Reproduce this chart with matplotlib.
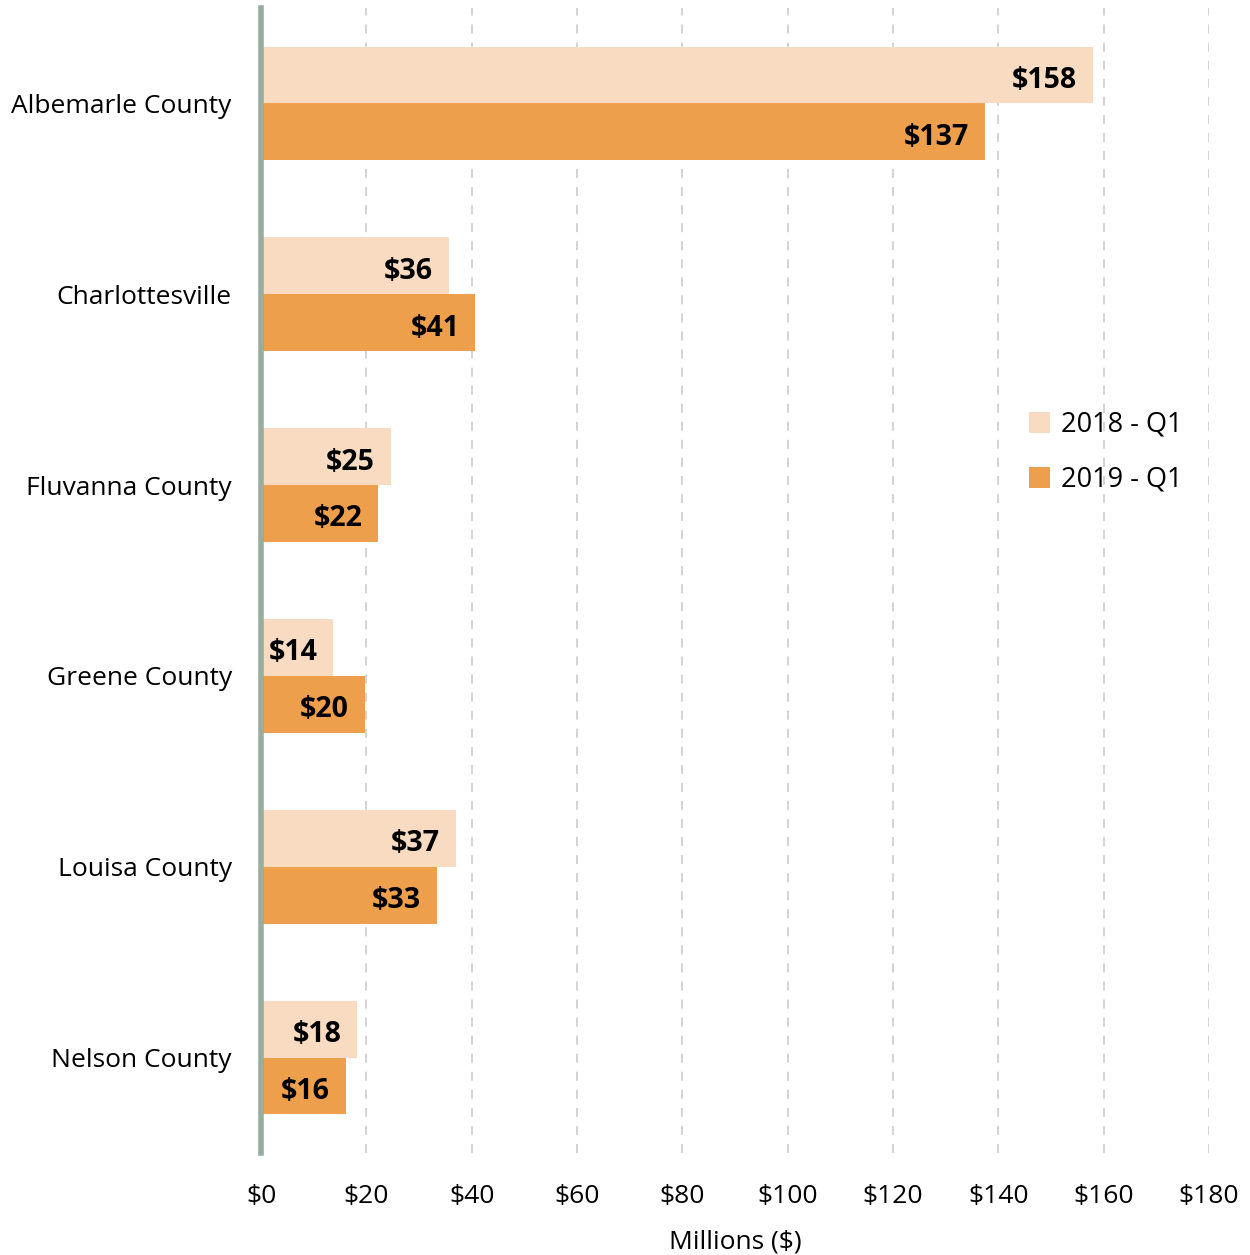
import matplotlib
matplotlib.use("Agg")
import numpy as np
import matplotlib.pyplot as plt
from matplotlib.patches import Patch

# Taxable sales by locality, first quarter, millions of dollars
localities = [
    "Albemarle County",
    "Charlottesville",
    "Fluvanna County",
    "Greene County",
    "Louisa County",
    "Nelson County",
]
sales_2018_q1 = [158.0, 35.7, 24.6, 13.7, 37.0, 18.3]
sales_2019_q1 = [137.4, 40.7, 22.3, 19.7, 33.4, 16.1]
series_labels = ["2018 - Q1", "2019 - Q1"]
x_ticks = [0, 20, 40, 60, 80, 100, 120, 140, 160, 180]

LIGHT = "#F8DBC0"
DARK = "#EE9F4C"
AXIS_GREEN = "#97ADA0"
GRID_GRAY = "#D0D0D0"

plt.rcParams.update({
    "font.family": ["Open Sans", "DejaVu Sans"],
    "font.size": 19,
})

fig = plt.figure(figsize=(12.5, 12.55), dpi=100)
ax = fig.add_axes([0.2088, 0.0813, 0.7584, 0.9123])

y = np.arange(len(localities))
h = 0.298

bars_a = ax.barh(y - h / 2, sales_2018_q1, height=h, color=LIGHT, zorder=2)
bars_b = ax.barh(y + h / 2, sales_2019_q1, height=h, color=DARK, zorder=2)

# value labels sit inside the bar ends
for bars, vals in ((bars_a, sales_2018_q1), (bars_b, sales_2019_q1)):
    for bar, v in zip(bars, vals):
        ax.text(v - 3.0, bar.get_y() + bar.get_height() / 2 + 0.01, f"${v:.0f}",
                ha="right", va="center_baseline", fontsize=20.5, fontweight="bold",
                color="black", zorder=3)

ax.set_xlim(0, 180)
ax.set_ylim(len(localities) - 0.5, -0.5)
ax.set_yticks(y)
ax.set_yticklabels(localities)
ax.set_xticks(x_ticks)
ax.set_xticklabels([f"${t}" for t in x_ticks])
ax.tick_params(axis="both", length=0, labelsize=19)
ax.tick_params(axis="x", pad=22)
ax.tick_params(axis="y", pad=21)

ax.xaxis.grid(True, linestyle=(0, (5, 5)), color=GRID_GRAY, linewidth=1.3, zorder=0)
ax.set_axisbelow(True)
for side in ("top", "right", "bottom"):
    ax.spines[side].set_visible(False)
ax.spines["left"].set_color(AXIS_GREEN)
ax.spines["left"].set_linewidth(4)
ax.spines["left"].set_zorder(4)

ax.set_xlabel("Millions ($)", fontsize=19, labelpad=15)

handles = [Patch(facecolor=LIGHT), Patch(facecolor=DARK)]
ax.legend(handles, series_labels, loc="center", bbox_to_anchor=(0.891, 0.612),
          frameon=False, fontsize=19.5, handlelength=0.8, handleheight=0.8,
          handletextpad=0.4, labelspacing=1.0)

fig.savefig("out.png", dpi=100, facecolor="white")
